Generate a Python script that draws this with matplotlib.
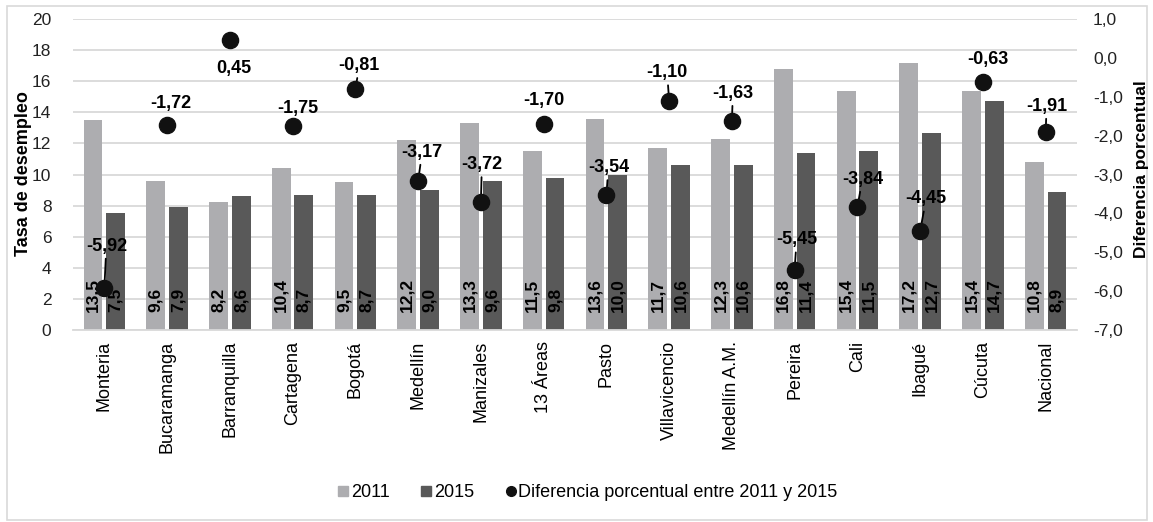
import matplotlib.pyplot as plt
from matplotlib.lines import Line2D
from matplotlib.patches import Rectangle
from matplotlib.ticker import FuncFormatter

plt.rcParams['font.family'] = ['Liberation Sans', 'DejaVu Sans']

# Datos: tasa de desempleo por ciudad y diferencia entre 2011 y 2015
ciudades = ['Monteria', 'Bucaramanga', 'Barranquilla', 'Cartagena', 'Bogotá',
            'Medellín', 'Manizales', '13 Áreas', 'Pasto', 'Villavicencio',
            'Medellín A.M.', 'Pereira', 'Cali', 'Ibagué', 'Cúcuta', 'Nacional']
tasa_2011 = [13.5, 9.6, 8.2, 10.4, 9.5, 12.2, 13.3, 11.5, 13.6, 11.7, 12.3, 16.8, 15.4, 17.2, 15.4, 10.8]
tasa_2015 = [7.5, 7.9, 8.6, 8.7, 8.7, 9.0, 9.6, 9.8, 10.0, 10.6, 10.6, 11.4, 11.5, 12.7, 14.7, 8.9]
diferencia = [-5.92, -1.72, 0.45, -1.75, -0.81, -3.17, -3.72, -1.70, -3.54, -1.10, -1.63, -5.45, -3.84, -4.45, -0.63, -1.91]

# Desplazamiento (px) de cada etiqueta de diferencia y si lleva linea guia
desp_etiq = [(2, 42), (4, 21), (4, -28), (5, 17), (4, 24), (4, 29), (1, 38), (0, 23),
             (2, 28), (-2, 28), (1, 28), (2, 30), (5, 28), (6, 32), (5, 23), (1, 26)]
linea_guia = [1, 0, 0, 0, 1, 1, 1, 0, 1, 1, 1, 1, 1, 1, 0, 1]

gris_claro = '#adadb0'
gris_osc = '#595959'

def coma(v, pos=None, dec=1):
    return f'{v:.{dec}f}'.replace('.', ',')

fig = plt.figure(figsize=(11.53, 5.22), dpi=100)
ax = fig.add_axes([0.0633, 0.3678, 0.8708, 0.5958])
ax2 = ax.twinx()

x = list(range(len(ciudades)))
ancho = 0.3
x1 = [i - 0.18 for i in x]
x2 = [i + 0.18 for i in x]
ax.bar(x1, tasa_2011, ancho, color=gris_claro, zorder=2)
ax.bar(x2, tasa_2015, ancho, color=gris_osc, zorder=2)

# Etiquetas de valor dentro de las barras
for xs, vals in ((x1, tasa_2011), (x2, tasa_2015)):
    for xi, v in zip(xs, vals):
        ax.annotate(coma(v), (xi, 0), xytext=(0, 18), textcoords='offset pixels',
                    rotation=90, ha='center', va='bottom', fontsize=12.5,
                    fontweight='bold', color='black', zorder=3)

ax.set_ylim(0, 20)
ax.set_xlim(-0.5, len(ciudades) - 0.5)
ax.set_yticks(range(0, 21, 2))
ax.set_xticks(x)
ax.set_xticklabels(ciudades, rotation=90, fontsize=13)
ax.grid(axis='y', color='#d9d9d9', lw=1.3, zorder=0)
ax.set_axisbelow(True)
ax.tick_params(axis='both', length=0)
ax.tick_params(axis='y', labelsize=12.5, pad=15.5, colors='#222222')
ax.tick_params(axis='x', pad=8)
for s in ['top', 'right', 'left']:
    ax.spines[s].set_visible(False)
ax.spines['bottom'].set_color('#d9d9d9')
ax.spines['bottom'].set_linewidth(1.3)

# Serie de diferencia porcentual en eje secundario
ax2.scatter(x, diferencia, s=135, color='#111111', zorder=5)
ax2.set_ylim(-7, 1)
ax2.set_yticks(range(-7, 2))
ax2.yaxis.set_major_formatter(FuncFormatter(coma))
ax2.tick_params(axis='y', length=0, labelsize=12.5, pad=11.5, colors='#222222')
for s in ['top', 'right', 'left', 'bottom']:
    ax2.spines[s].set_visible(False)

for xi, d, (dx, dy), lg in zip(x, diferencia, desp_etiq, linea_guia):
    props = dict(arrowstyle='-', color='black', lw=1.3, shrinkA=1, shrinkB=0) if lg else None
    ax2.annotate(coma(d, dec=2), (xi, d), xytext=(dx, dy), textcoords='offset pixels',
                 ha='center', va='center', fontsize=13, fontweight='bold',
                 arrowprops=props, zorder=4)

# Titulos de los ejes
fig.text(0.0208, 0.668, 'Tasa de desempleo', rotation=90, ha='center', va='center',
         fontsize=13, fontweight='bold')
fig.text(0.9896, 0.676, 'Diferencia porcentual', rotation=90, ha='center', va='center',
         fontsize=12.5, fontweight='bold')

# Leyenda inferior
elementos = [
    Line2D([], [], ls='', marker='s', ms=7.2, color=gris_claro, label='2011'),
    Line2D([], [], ls='', marker='s', ms=7.2, color=gris_osc, label='2015'),
    Line2D([], [], ls='', marker='o', ms=7, color='#111111',
           label='Diferencia porcentual entre 2011 y 2015'),
]
fig.legend(handles=elementos, loc='center', bbox_to_anchor=(0.51, 0.0556), ncol=3,
           frameon=False, fontsize=13, handlelength=0.55, handletextpad=0.15,
           columnspacing=1.75, borderpad=0)

# Marco exterior del grafico
fig.add_artist(Rectangle((0.006, 0.004), 0.989, 0.985, transform=fig.transFigure,
                         fill=False, edgecolor='#d9d9d9', lw=1.2))

fig.savefig('out.png', dpi=100)
